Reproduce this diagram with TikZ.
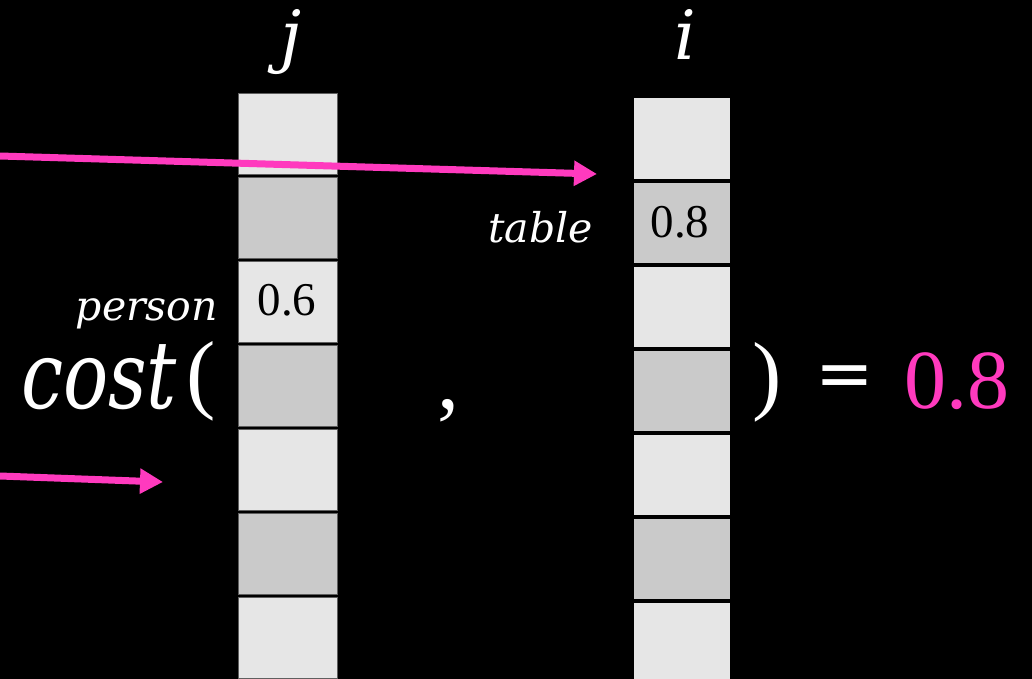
\documentclass[tikz,border=0pt]{standalone}
\usepackage{fontspec}
\setmainfont{Liberation Serif}
\newfontfamily\dvfont{DejaVu Serif}
\newfontfamily\dvsans{DejaVu Sans}
\usetikzlibrary{arrows.meta}
\definecolor{pinkc}{RGB}{255,58,190}
\definecolor{lightc}{RGB}{230,230,230}
\definecolor{darkc}{RGB}{202,202,202}
\definecolor{jborder}{RGB}{95,95,95}
\newcommand{\fsz}[1]{\fontsize{#1}{#1}\selectfont}
\begin{document}
\begin{tikzpicture}[x=1pt,y=-1pt,
  cellj/.style={draw=jborder, line width=1pt, minimum width=99pt, minimum height=81pt, inner sep=0pt, outer sep=0pt},
  celli/.style={draw=black, line width=2pt, minimum width=98pt, minimum height=82pt, inner sep=0pt, outer sep=0pt},
  lt/.style={fill=lightc},
  dk/.style={fill=darkc},
  wtxt/.style={text=white, inner sep=0pt, outer sep=0pt},
  celltxt/.style={text=black, inner sep=0pt, font=\fsz{47}},
  pinkarrow/.style={draw=pinkc, line width=7pt, -{Triangle[length=23pt,width=24pt]}}
]
\fill[black] (0,0) rectangle (1032,679);
\useasboundingbox (0,0) rectangle (1032,679);

% column j
\node[cellj,lt] (j1) at (288,134) {};
\node[cellj,dk] (j2) at (288,218) {};
\node[cellj,lt] (j3) at (288,302) {};
\node[cellj,dk] (j4) at (288,386) {};
\node[cellj,lt] (j5) at (288,470) {};
\node[cellj,dk] (j6) at (288,554) {};
\node[cellj,lt] (j7) at (288,638) {};

% column i
\node[celli,lt] (i1) at (681.5,138.5) {};
\node[celli,dk] (i2) at (681.5,222.5) {};
\node[celli,lt] (i3) at (681.5,306.5) {};
\node[celli,dk] (i4) at (681.5,390.5) {};
\node[celli,lt] (i5) at (681.5,474.5) {};
\node[celli,dk] (i6) at (681.5,558.5) {};
\node[celli,lt] (i7) at (681.5,642.5) {};

% cell values
\node[celltxt, anchor=base] (v06) at (287,315) {0.6};
\node[celltxt, anchor=base] (v08) at (680,237) {0.8};

% column headers
\node[wtxt, anchor=base, font=\dvfont\itshape\fsz{68}] (hj) at (291,60) {j};
\node[wtxt, anchor=base, font=\dvfont\itshape\fsz{68}] (hi) at (685,60) {i};

% labels
\node[wtxt, anchor=base east, font=\dvfont\itshape\fsz{41}] (lperson) at (218,320) {person};
\node[wtxt, anchor=base east, font=\dvfont\itshape\fsz{41}] (ltable) at (593,242) {table};

% equation
\node[wtxt, anchor=base west, font=\dvfont\itshape\fsz{94}] (cost) at (21,408) {\scalebox{0.8}[1]{cost}};
\node[wtxt, font=\fsz{88}] (lpar) at (201,381.5) {(};
\node[wtxt, font=\fsz{88}] (comma) at (448,411) {,};
\node[wtxt, font=\fsz{88}] (rpar) at (767,382) {)};
\node[wtxt, font=\dvsans\fsz{70}] (eq) at (845,382) {=};
\node[inner sep=0pt, text=pinkc, anchor=base, font=\fsz{84}] (res) at (957,408) {0.8};

% arrows
\coordinate (a1s) at (0,156);
\coordinate (a1e) at (597,174);
\coordinate (a2s) at (0,476);
\coordinate (a2e) at (163,482);
\draw[pinkarrow] (a1s) -- (a1e);
\draw[pinkarrow] (a2s) -- (a2e);
\end{tikzpicture}
\end{document}
